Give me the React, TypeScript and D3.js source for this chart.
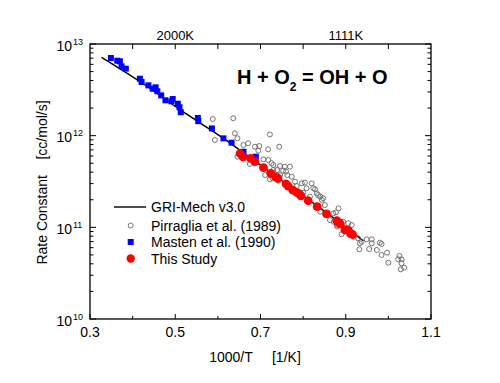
import React from "react";
import * as d3 from "d3";

// GRI-Mech v3.0 curve: 1000/T and k [cc/mol/s]
const griX = [0.327, 0.417, 0.511, 0.613, 0.722, 0.856, 0.941];
const griK = [7.16e12, 3.9e12, 1.92e12, 9.36e11, 4.02e11, 1.43e11, 7.15e10];

// Masten et al. (1990)
const mastenX = [0.349, 0.364, 0.37, 0.374, 0.384, 0.417, 0.421, 0.437, 0.447, 0.454, 0.458, 0.467, 0.477, 0.491, 0.494, 0.506, 0.51, 0.513, 0.553, 0.554, 0.586, 0.613, 0.632, 0.66, 0.689];
const mastenK = [7.03e12, 6.57e12, 6.48e12, 5.71e12, 5.38e12, 4.18e12, 3.85e12, 3.54e12, 3.25e12, 3.37e12, 3.05e12, 2.75e12, 2.43e12, 2.37e12, 2.51e12, 2.23e12, 2.04e12, 1.8e12, 1.56e12, 1.44e12, 1.2e12, 9.35e11, 8.38e11, 6.68e11, 5.9e11];

// This Study
const studyX = [0.652, 0.659, 0.677, 0.687, 0.707, 0.724, 0.736, 0.741, 0.76, 0.765, 0.776, 0.785, 0.791, 0.795, 0.812, 0.833, 0.855, 0.879, 0.883, 0.887, 0.898, 0.906, 0.911, 0.916];
const studyK = [6.39e11, 5.85e11, 5.66e11, 5.2e11, 4.48e11, 3.88e11, 3.56e11, 3.43e11, 2.97e11, 2.82e11, 2.55e11, 2.41e11, 2.31e11, 2.21e11, 1.95e11, 1.68e11, 1.4e11, 1.18e11, 1.13e11, 1.09e11, 9.35e10, 9.24e10, 8.61e10, 8.35e10];

// Pirraglia et al. (1989)
const pirrX = [0.588, 0.636, 0.64, 0.593, 0.646, 0.66, 0.671, 0.687, 0.697, 0.695, 0.722, 0.744, 0.718, 0.707, 0.718, 0.675, 0.646, 0.726, 0.746, 0.739, 0.757, 0.76, 0.763, 0.711, 0.722, 0.742, 0.73, 0.773, 0.781, 0.785, 0.797, 0.804, 0.82, 0.808, 0.824, 0.832, 0.84, 0.816, 0.844, 0.851, 0.84, 0.883, 0.863, 0.894, 0.906, 0.914, 0.879, 0.73, 0.729, 0.8, 0.877, 0.872, 0.88, 0.9, 0.91, 0.89, 0.919, 0.929, 0.937, 0.933, 0.949, 0.961, 0.961, 0.98, 0.984, 0.932, 0.955, 0.973, 0.984, 0.997, 1.0, 1.026, 1.023, 1.031, 1.031, 1.029, 1.037, 0.753, 0.835, 0.847, 0.828, 0.871, 0.769, 0.746];
const pirrK = [1.52e12, 1.55e12, 1.06e12, 8.97e11, 9.36e11, 7.91e11, 8.26e11, 7.58e11, 7.71e11, 6.86e11, 1.03e12, 7.58e11, 7.1e11, 5.52e11, 5.43e11, 4.91e11, 5.9e11, 5.0e11, 4.67e11, 4.22e11, 4.59e11, 4.05e11, 3.72e11, 3.72e11, 3.34e11, 3.23e11, 4.79e11, 3.57e11, 3.15e11, 2.82e11, 3.02e11, 3.07e11, 3.02e11, 2.67e11, 2.67e11, 2.35e11, 2.16e11, 2.16e11, 1.99e11, 1.75e11, 1.48e11, 1.61e11, 1.2e11, 1.15e11, 1.11e11, 1.06e11, 1.06e11, 4.22e11, 3.43e11, 2.39e11, 1.46e11, 1.15e11, 1.02e11, 9.76e10, 8.25e10, 8.4e10, 7.9e10, 7.59e10, 6.97e10, 6.7e10, 7.4e10, 7.4e10, 6.7e10, 6.8e10, 6.58e10, 5.76e10, 5.8e10, 5.66e10, 4.99e10, 5.29e10, 4.11e10, 4.87e10, 4.48e10, 4.48e10, 4.05e10, 3.48e10, 3.63e10, 4.15e11, 2.25e11, 2.07e11, 2.6e11, 1.42e11, 4.59e11, 3.72e11];

const xTicksMajor = [0.3, 0.5, 0.7, 0.9, 1.1];
const xTicksMinor = [0.4, 0.6, 0.8, 1.0];
const topTicks = [0.4, 0.5, 0.6, 0.7, 0.8, 0.9, 1.0];
const topLabels = [
  { x: 0.5, t: "2000K" },
  { x: 0.9, t: "1111K" },
];
const yDecades = [10, 11, 12, 13];
const legendLabels = ["GRI-Mech v3.0", "Pirraglia et al. (1989)", "Masten et al. (1990)", "This Study"];

const FONT = "'Liberation Sans', Arial, Helvetica, sans-serif";

export default function App() {
  const L = 90, R = 431, T = 44, B = 319;
  const x = d3.scaleLinear().domain([0.3, 1.1]).range([L, R]);
  const y = d3.scaleLog().domain([1e10, 1e13]).range([B, T]);

  const line = d3
    .line<number>()
    .x((_, i) => x(griX[i]))
    .y((_, i) => y(griK[i]))
    .curve(d3.curveMonotoneX);

  const minorY: number[] = [];
  for (let e = 10; e < 13; e++) for (let m = 2; m <= 9; m++) minorY.push(m * Math.pow(10, e));

  const lx = 130.7;
  const legY = [207, 225.5, 242, 258.5];

  return (
    <svg
      width={500}
      height={383}
      style={{ position: "absolute", left: 0, top: 0, background: "#fff" }}
      fontFamily={FONT}
    >
      <rect x={0} y={0} width={500} height={383} fill="#fff" />

      {/* GRI line */}
      <path d={line(griX) || ""} fill="none" stroke="#000" strokeWidth={1.4} />

      {/* Pirraglia open circles */}
      {pirrX.map((v, i) => (
        <circle key={"p" + i} cx={x(v)} cy={y(pirrK[i])} r={2.5} fill="none" stroke="#666" strokeWidth={0.9} />
      ))}

      {/* Masten squares */}
      {mastenX.map((v, i) => (
        <rect key={"m" + i} x={x(v) - 3} y={y(mastenK[i]) - 3} width={6} height={6} fill="#0000ff" />
      ))}

      {/* This Study */}
      {studyX.map((v, i) => (
        <circle key={"s" + i} cx={x(v)} cy={y(studyK[i])} r={4.4} fill="#ff0000" />
      ))}

      {/* frame */}
      <rect x={L} y={T} width={R - L} height={B - T} fill="none" stroke="#000" strokeWidth={1.3} />

      {/* bottom ticks */}
      {xTicksMajor.map((t) => (
        <line key={"bx" + t} x1={x(t)} x2={x(t)} y1={B} y2={B - 5} stroke="#000" strokeWidth={1} />
      ))}
      {xTicksMinor.map((t) => (
        <line key={"bm" + t} x1={x(t)} x2={x(t)} y1={B} y2={B - 3} stroke="#000" strokeWidth={1} />
      ))}
      {xTicksMajor.map((t) => (
        <text key={"bl" + t} x={x(t)} y={337} fontSize={14} textAnchor="middle">
          {t.toFixed(1)}
        </text>
      ))}

      {/* top ticks */}
      {topTicks.map((t) => (
        <line key={"tx" + t} x1={x(t)} x2={x(t)} y1={T} y2={T + 5} stroke="#000" strokeWidth={1} />
      ))}
      {topLabels.map((d) => (
        <text key={d.t} x={x(d.x)} y={40} fontSize={13} textAnchor="middle">
          {d.t}
        </text>
      ))}

      {/* y ticks */}
      {yDecades.map((e) => (
        <g key={"yd" + e}>
          <line x1={L} x2={L + 6} y1={y(Math.pow(10, e))} y2={y(Math.pow(10, e))} stroke="#000" strokeWidth={1} />
          <line x1={R} x2={R - 6} y1={y(Math.pow(10, e))} y2={y(Math.pow(10, e))} stroke="#000" strokeWidth={1} />
          <text x={72} y={y(Math.pow(10, e)) + 6.5} fontSize={14} textAnchor="end">
            10
          </text>
          <text x={73} y={y(Math.pow(10, e)) + 0.5} fontSize={9}>
            {e}
          </text>
        </g>
      ))}
      {minorY.map((v, i) => (
        <g key={"ym" + i}>
          <line x1={L} x2={L + 3.5} y1={y(v)} y2={y(v)} stroke="#000" strokeWidth={1} />
          <line x1={R} x2={R - 3.5} y1={y(v)} y2={y(v)} stroke="#000" strokeWidth={1} />
        </g>
      ))}

      {/* axis labels */}
      <text x={255} y={362} fontSize={14} textAnchor="middle" xmlSpace="preserve" style={{ whiteSpace: "pre" }}>
        {"1000/T     [1/K]"}
      </text>
      <text
        transform={`translate(47, 182.5) rotate(-90)`}
        fontSize={14}
        textAnchor="middle"
        xmlSpace="preserve"
        style={{ whiteSpace: "pre" }}
      >
        {"Rate Constant    [cc/mol/s]"}
      </text>

      {/* title */}
      <text x={237} y={83.5} fontSize={20} fontWeight="bold" xmlSpace="preserve" style={{ whiteSpace: "pre" }}>
        <tspan>{"H + O"}</tspan>
        <tspan fontSize={12} dy={7}>
          2
        </tspan>
        <tspan dy={-7}>{" = OH + O"}</tspan>
      </text>

      {/* legend */}
      <line x1={114} x2={146} y1={legY[0]} y2={legY[0]} stroke="#000" strokeWidth={1.4} />
      <circle cx={lx} cy={legY[1]} r={2.5} fill="none" stroke="#666" strokeWidth={0.9} />
      <rect x={lx - 3} y={legY[2] - 3} width={6} height={6} fill="#0000ff" />
      <circle cx={lx} cy={legY[3]} r={4.2} fill="#ff0000" />
      {legendLabels.map((t, i) => (
        <text key={t} x={151} y={legY[i] + 5} fontSize={14}>
          {t}
        </text>
      ))}
    </svg>
  );
}
